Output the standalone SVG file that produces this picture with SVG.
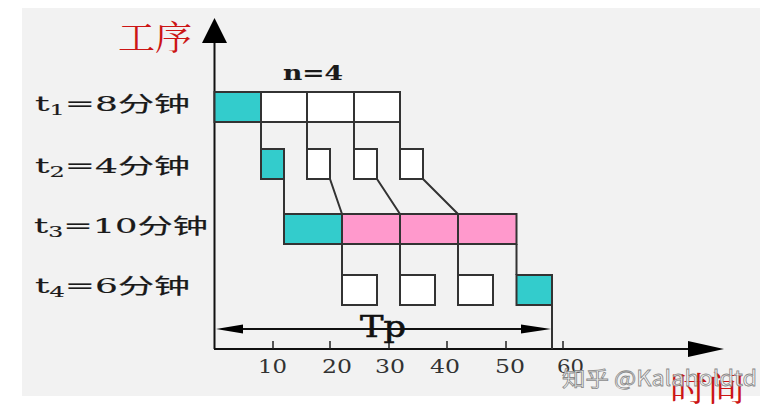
<svg xmlns="http://www.w3.org/2000/svg" width="776" height="409" viewBox="0 0 776 409">
<defs>
<style>
.bx{stroke:#333;stroke-width:2}
.w{fill:#fff}
.c{fill:#33cccc}
.p{fill:#ff99cc}
.ln{stroke:#333;stroke-width:2;fill:none}
.ax{stroke:#111;stroke-width:2;fill:none}
.lbl{font-family:"DejaVu Serif","Noto Sans CJK SC",serif;font-size:21px;fill:#1a1a1a;stroke:#1a1a1a;stroke-width:0.15}
.num{font-family:"DejaVu Serif",serif;font-size:19px;fill:#333}
.red{font-family:"Noto Serif CJK SC","Noto Sans CJK SC",serif;font-size:34px;fill:#cc1515}
</style>
</defs>
<rect x="0" y="0" width="776" height="409" fill="#fff"/>
<rect x="22" y="8" width="738" height="388" fill="#f2f2f2"/>

<g id="axes">
<line class="ax" x1="214.5" y1="349" x2="214.5" y2="40"/>
<polygon points="214.5,18 202,43 227,43" fill="#000"/>
<line class="ax" x1="214" y1="349" x2="690" y2="349"/>
<polygon points="724,349 688,341 688,357" fill="#000"/>
<g stroke="#222" stroke-width="1.5">
<line x1="273" y1="341" x2="273" y2="349"/>
<line x1="330" y1="341" x2="330" y2="349"/>
<line x1="389" y1="341" x2="389" y2="349"/>
<line x1="447" y1="341" x2="447" y2="349"/>
<line x1="506" y1="341" x2="506" y2="349"/>
<line x1="563" y1="341" x2="563" y2="349"/>
</g>
<g class="num">
<text x="258" y="373" textLength="29" lengthAdjust="spacingAndGlyphs">10</text>
<text x="322" y="373" textLength="30" lengthAdjust="spacingAndGlyphs">20</text>
<text x="375" y="373" textLength="30" lengthAdjust="spacingAndGlyphs">30</text>
<text x="430" y="373" textLength="30" lengthAdjust="spacingAndGlyphs">40</text>
<text x="495" y="373" textLength="30" lengthAdjust="spacingAndGlyphs">50</text>
<text x="557" y="373" textLength="27" lengthAdjust="spacingAndGlyphs">60</text>
</g>
<text class="red" x="118" y="50" textLength="74" lengthAdjust="spacingAndGlyphs">工序</text>
<text class="red" x="670" y="401" textLength="75" lengthAdjust="spacingAndGlyphs">时间</text>
</g>

<g id="labels">
<text class="lbl" x="35" y="111" textLength="155" lengthAdjust="spacingAndGlyphs">t<tspan font-size="14" dy="4">1</tspan><tspan dy="-4">=8分钟</tspan></text>
<text class="lbl" x="35" y="173" textLength="155" lengthAdjust="spacingAndGlyphs">t<tspan font-size="14" dy="4">2</tspan><tspan dy="-4">=4分钟</tspan></text>
<text class="lbl" x="34" y="233" textLength="174" lengthAdjust="spacingAndGlyphs">t<tspan font-size="14" dy="4">3</tspan><tspan dy="-4">=10分钟</tspan></text>
<text class="lbl" x="35" y="293" textLength="155" lengthAdjust="spacingAndGlyphs">t<tspan font-size="14" dy="4">4</tspan><tspan dy="-4">=6分钟</tspan></text>
<text class="lbl" x="283" y="80" font-weight="bold" textLength="60" lengthAdjust="spacingAndGlyphs">n=4</text>
</g>

<g id="connectors">
<path class="ln" d="M261,122V149M307,122V149M354,122V149M400,122V149"/>
<path class="ln" d="M284,179V214M330,179L342,214M377,179L400,214M423,179L458,214"/>
<path class="ln" d="M342,244V275M400,244V275M458,244V275M516.5,244V275"/>
<path class="ln" d="M552,305V349"/>
</g>

<g id="row1">
<g id="r1b1"><rect class="bx c" x="214.5" y="92" width="46.5" height="30"/></g>
<g id="r1b2"><rect class="bx w" x="261" y="92" width="46" height="30"/></g>
<g id="r1b3"><rect class="bx w" x="307" y="92" width="47" height="30"/></g>
<g id="r1b4"><rect class="bx w" x="354" y="92" width="46" height="30"/></g>
</g>
<g id="row2">
<g id="r2b1"><rect class="bx c" x="261" y="149" width="23" height="30"/></g>
<g id="r2b2"><rect class="bx w" x="307" y="149" width="23" height="30"/></g>
<g id="r2b3"><rect class="bx w" x="354" y="149" width="23" height="30"/></g>
<g id="r2b4"><rect class="bx w" x="400" y="149" width="23" height="30"/></g>
</g>
<g id="row3">
<g id="r3b1"><rect class="bx c" x="284" y="214" width="58" height="30"/></g>
<g id="r3b2"><rect class="bx p" x="342" y="214" width="58" height="30"/></g>
<g id="r3b3"><rect class="bx p" x="400" y="214" width="58" height="30"/></g>
<g id="r3b4"><rect class="bx p" x="458" y="214" width="58.5" height="30"/></g>
</g>
<g id="row4">
<g id="r4b1"><rect class="bx w" x="342" y="275" width="35" height="30"/></g>
<g id="r4b2"><rect class="bx w" x="400" y="275" width="35" height="30"/></g>
<g id="r4b3"><rect class="bx w" x="458" y="275" width="35" height="30"/></g>
<g id="r4b4"><rect class="bx c" x="516.5" y="275" width="35.5" height="30"/></g>
</g>

<g id="tp">
<line class="ax" x1="230" y1="329" x2="535" y2="329"/>
<polygon points="216,329 243,324.5 243,333.5" fill="#000"/>
<polygon points="551,329 521,324.5 521,333.5" fill="#000"/>
<text x="360" y="337" font-family="DejaVu Serif,serif" font-size="30" fill="#111" stroke="#111" stroke-width="0.6" textLength="46" lengthAdjust="spacingAndGlyphs">Tp</text>
</g>

<text x="562" y="386" font-family="Noto Sans CJK SC,sans-serif" font-size="21" fill="#fff" stroke="#8a8a8a" stroke-width="0.8" fill-opacity="0.85" textLength="195" lengthAdjust="spacingAndGlyphs">知乎 @Kalaholdtd</text>
</svg>
